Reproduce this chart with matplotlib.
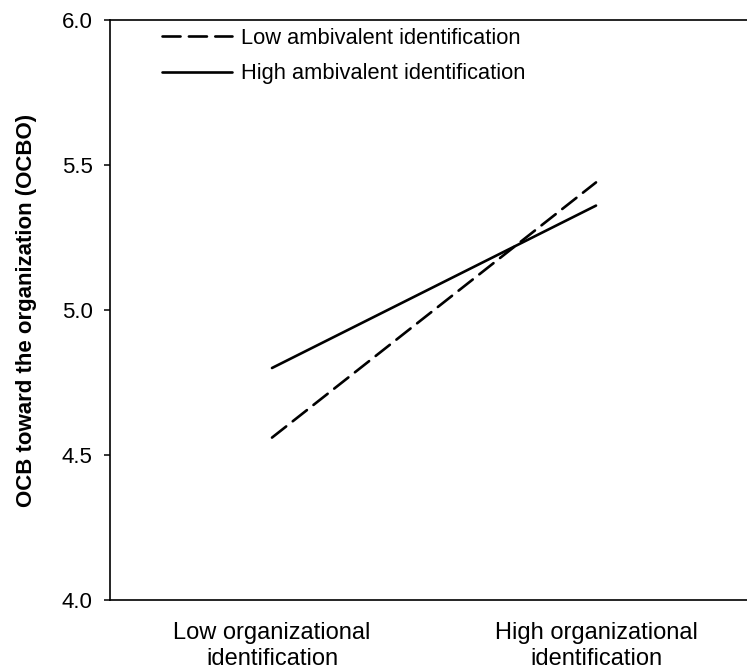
import matplotlib
matplotlib.use("Agg")
import matplotlib.pyplot as plt

plt.rcParams['font.family'] = ['Liberation Sans', 'DejaVu Sans']
plt.rcParams['lines.scale_dashes'] = False

categories = ["Low organizational\nidentification", "High organizational\nidentification"]
series_names = ["Low ambivalent identification", "High ambivalent identification"]
low_ambiv = [4.56, 5.44]
high_ambiv = [4.80, 5.36]
yticks = [4.0, 4.5, 5.0, 5.5, 6.0]

W, H = 747, 672
fig = plt.figure(figsize=(W / 100, H / 100), dpi=100)
ax = fig.add_axes([110 / W, (H - 600) / H, (W - 110) / W, 580 / H])

xpos = list(range(len(categories)))
ax.plot(xpos, low_ambiv, color='black', lw=1.9, dashes=(13, 6),
        solid_capstyle='round', dash_capstyle='round', label=series_names[0])
ax.plot(xpos, high_ambiv, color='black', lw=1.9, solid_capstyle='round',
        label=series_names[1])

ax.set_xlim(-0.5, 1.466)
ax.set_ylim(4.0, 6.0)
ax.set_yticks(yticks)
ax.set_yticklabels([f"{v:.1f}" for v in yticks])
ax.set_xticks(xpos)
ax.set_xticklabels(categories, linespacing=1.25)

for s in ['left', 'top', 'bottom']:
    ax.spines[s].set_linewidth(1.2)
ax.spines['right'].set_visible(False)

ax.tick_params(axis='y', length=4.5, width=1.1, pad=8, labelsize=16, colors='black')
ax.tick_params(axis='x', length=0, pad=16, labelsize=17)
ax.set_ylabel("OCB toward the organization (OCBO)", fontsize=16, fontweight='bold', labelpad=18)

leg = ax.legend(loc='upper left', bbox_to_anchor=(52 / (W - 110), 1 - 8 / 580),
                frameon=False, fontsize=15.75, handlelength=3.2, handletextpad=0.4,
                labelspacing=0.65, borderaxespad=0, borderpad=0)

fig.savefig("out.png", dpi=100)
